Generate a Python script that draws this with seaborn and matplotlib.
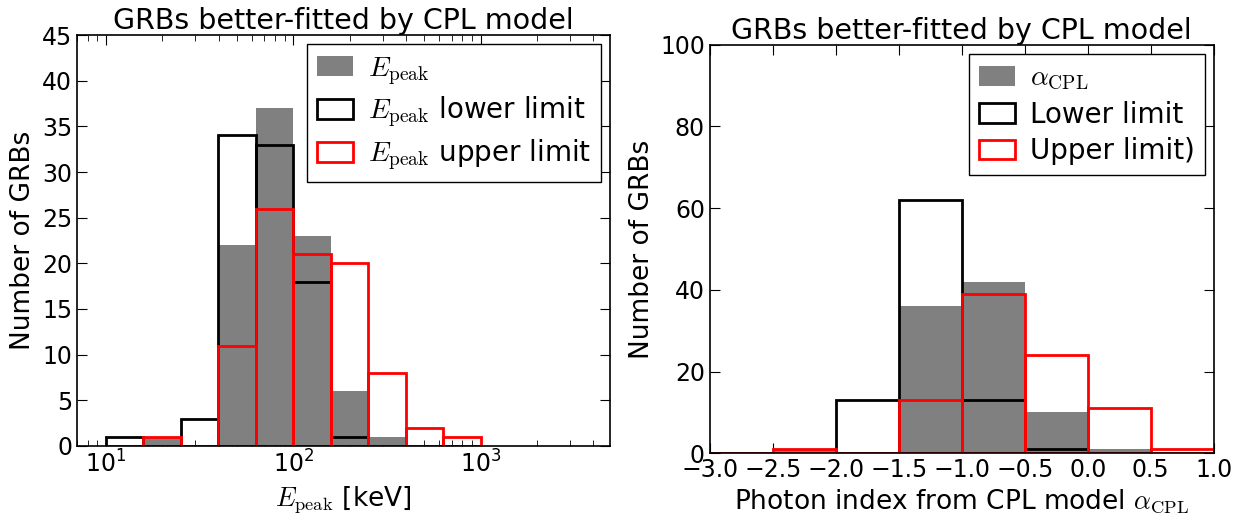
import numpy as np
import pandas as pd
import matplotlib
matplotlib.use("Agg")
import matplotlib.pyplot as plt
import seaborn as sns

# ---- data ----
# left panel: E_peak histogram, 5 log bins per decade from 10 to 1000 keV
epeak_edges = list(10 ** np.arange(1.0, 3.01, 0.2))
epeak_counts = [0, 1, 0, 22, 37, 23, 6, 1, 0, 0]
epeak_low_counts = [1, 0, 3, 34, 33, 18, 1, 0, 0, 0]
epeak_up_counts = [0, 1, 0, 11, 26, 21, 20, 8, 2, 1]

# right panel: alpha_CPL histogram, bins of 0.5 from -3 to 1
alpha_edges = list(np.arange(-3.0, 1.01, 0.5))
alpha_counts = [0, 1, 0, 36, 42, 10, 1, 0]
alpha_low_counts = [0, 0, 13, 62, 13, 1, 0, 0]
alpha_up_counts = [0, 1, 0, 13, 39, 24, 11, 1]

sns.set_style("ticks", {"xtick.direction": "in", "ytick.direction": "in"})
plt.rcParams["font.family"] = ["DejaVu Sans"]
plt.rcParams["mathtext.fontset"] = "cm"
plt.rcParams["xtick.top"] = True
plt.rcParams["ytick.right"] = True
for k in ("text.color", "axes.labelcolor", "xtick.color", "ytick.color"):
    plt.rcParams[k] = "black"

FS = 19        # axis labels
TKS = 17       # tick labels
LFS = 20       # legend
TFS = 20.5     # titles

fig = plt.figure(figsize=(12.41, 5.15), dpi=100)
ax1 = fig.add_axes([0.062, 0.134, 0.4295, 0.798])
ax2 = fig.add_axes([0.572, 0.120, 0.406, 0.793])

# bin centres for weighted histograms
le = np.array(epeak_edges)
ae = np.array(alpha_edges)
left_df = pd.DataFrame({
    "x": np.sqrt(le[:-1] * le[1:]),
    "all": epeak_counts,
    "low": epeak_low_counts,
    "up": epeak_up_counts,
})
right_df = pd.DataFrame({
    "x": 0.5 * (ae[:-1] + ae[1:]),
    "all": alpha_counts,
    "low": alpha_low_counts,
    "up": alpha_up_counts,
})

legend_kw = dict(loc="upper right", fontsize=LFS, fancybox=False,
                 framealpha=1, edgecolor="black", borderaxespad=0.33,
                 handlelength=1.3, handletextpad=0.55, labelspacing=0.3,
                 borderpad=0.35)

# ---- left panel ----
sns.histplot(data=left_df, x="x", weights="all", bins=epeak_edges, ax=ax1,
             color="#808080", alpha=1, linewidth=0, label=r"$E_{\rm peak}$")
sns.histplot(data=left_df, x="x", weights="low", bins=epeak_edges, ax=ax1,
             fill=False, color="black", linewidth=2,
             label=r"$E_{\rm peak}$ lower limit")
sns.histplot(data=left_df, x="x", weights="up", bins=epeak_edges, ax=ax1,
             fill=False, color="red", linewidth=2,
             label=r"$E_{\rm peak}$ upper limit")
ax1.set_xscale("log")
ax1.set_xlim(7.0, 4900)
ax1.set_ylim(0, 45)
ax1.set_yticks(np.arange(0, 46, 5))
ax1.set_xlabel(r"$E_{\rm peak}$ [keV]", fontsize=FS)
ax1.set_ylabel("Number of GRBs", fontsize=FS)
ax1.set_title("GRBs better-fitted by CPL model", fontsize=TFS, pad=2)
ax1.tick_params(which="both", direction="in", top=True, right=True, labelsize=TKS)
ax1.tick_params(which="major", length=7)
ax1.tick_params(which="minor", length=4)
ax1.legend(**legend_kw)

# ---- right panel ----
sns.histplot(data=right_df, x="x", weights="all", bins=alpha_edges, ax=ax2,
             color="#808080", alpha=1, linewidth=0, label=r"$\alpha_{\rm CPL}$")
sns.histplot(data=right_df, x="x", weights="low", bins=alpha_edges, ax=ax2,
             fill=False, color="black", linewidth=2, label="Lower limit")
sns.histplot(data=right_df, x="x", weights="up", bins=alpha_edges, ax=ax2,
             fill=False, color="red", linewidth=2, label="Upper limit)")
ax2.set_xlim(-3, 1)
ax2.set_ylim(0, 100)
ax2.set_xticks(alpha_edges)
ax2.set_yticks(np.arange(0, 101, 20))
ax2.set_xlabel(r"Photon index from CPL model $\alpha_{\rm CPL}$", fontsize=FS)
ax2.set_ylabel("Number of GRBs", fontsize=FS)
ax2.set_title("GRBs better-fitted by CPL model", fontsize=TFS, pad=2)
ax2.tick_params(direction="in", top=True, right=True, length=7, labelsize=TKS)
ax2.legend(**legend_kw)

for ax in (ax1, ax2):
    for s in ax.spines.values():
        s.set_linewidth(1.2)
        s.set_color("black")

fig.savefig("out.png", dpi=100)
